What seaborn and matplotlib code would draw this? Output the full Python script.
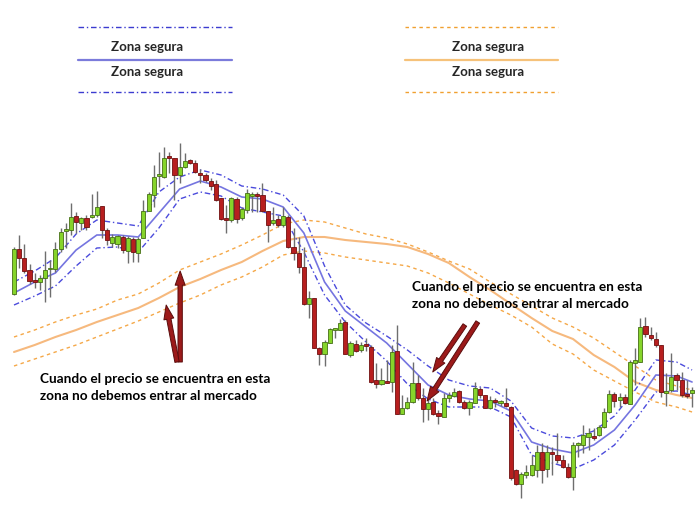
import numpy as np
import pandas as pd
import matplotlib
matplotlib.use('Agg')
import matplotlib.pyplot as plt
import seaborn as sns
from matplotlib.lines import Line2D

# candle data (price units, one value per bar)
opens = [206, 251, 242, 230, 220, 218, 222, 231, 231, 251, 269, 270, 284, 277, 282, 283, 285, 294, 270, 257,
         256, 263, 249, 261, 247, 262, 289, 305, 324, 323, 344, 342, 325, 333, 340, 337, 327, 325, 319, 316,
         302, 282, 280, 301, 282, 290, 304, 306, 305, 289, 277, 281, 275, 283, 253, 247, 233, 196, 202, 152,
         146, 157, 170, 170, 178, 145, 156, 150, 156, 153, 120, 116, 119, 118, 149, 86, 92, 98, 117, 102,
         91, 98, 87, 83, 102, 104, 109, 98, 92, 97, 111, 105, 92, 100, 97, 97, 93, 30, 16, 25,
         25, 30, 48, 31, 48, 45, 40, 33, 23, 55, 55, 63, 64, 65, 73, 88, 106, 100, 103, 96,
         137, 138, 174, 165, 161, 155, 107, 110, 125, 120, 106, 107]
highs = [253, 265, 256, 236, 227, 225, 249, 240, 258, 272, 277, 297, 288, 283, 285, 306, 309, 294, 272, 266,
         265, 265, 264, 263, 263, 300, 308, 335, 348, 353, 348, 342, 357, 347, 341, 340, 331, 327, 322, 320,
         302, 295, 303, 303, 293, 311, 308, 308, 317, 289, 293, 285, 293, 285, 272, 263, 253, 209, 202, 153,
         160, 172, 172, 181, 180, 159, 160, 158, 162, 155, 137, 132, 140, 155, 175, 105, 103, 138, 125, 112,
         102, 102, 90, 107, 108, 112, 110, 100, 100, 118, 113, 105, 104, 102, 100, 112, 94, 31, 28, 35,
         45, 55, 57, 55, 53, 67, 45, 37, 58, 58, 75, 72, 72, 75, 92, 110, 108, 107, 106, 140,
         152, 182, 183, 173, 168, 155, 127, 147, 127, 128, 120, 113]
lows = [205, 232, 227, 216, 212, 210, 198, 203, 228, 248, 252, 265, 267, 270, 270, 282, 283, 262, 255, 253,
        252, 247, 237, 238, 238, 262, 289, 293, 313, 322, 327, 300, 317, 332, 336, 327, 317, 318, 310, 299,
        280, 267, 278, 277, 280, 287, 288, 288, 288, 258, 275, 273, 273, 252, 240, 227, 195, 182, 152, 135,
        134, 157, 162, 170, 146, 143, 148, 148, 149, 117, 112, 115, 117, 108, 86, 86, 91, 97, 100, 78,
        80, 85, 76, 83, 98, 103, 97, 91, 85, 97, 102, 92, 91, 93, 94, 93, 20, 15, 2, 22,
        24, 23, 17, 23, 25, 37, 32, 22, 10, 43, 47, 50, 60, 64, 72, 87, 93, 93, 96, 96,
        115, 138, 163, 160, 153, 103, 94, 108, 110, 103, 102, 93]
closes = [251, 242, 229, 219, 218, 222, 230, 232, 251, 268, 271, 283, 278, 282, 273, 285, 293, 270, 260, 263,
          264, 250, 262, 248, 261, 289, 306, 323, 326, 342, 342, 325, 333, 339, 337, 328, 325, 320, 314, 300,
          281, 280, 302, 281, 291, 307, 306, 304, 289, 275, 280, 275, 284, 253, 247, 233, 196, 202, 152, 146,
          158, 171, 172, 177, 146, 157, 149, 155, 154, 118, 116, 120, 117, 148, 86, 92, 98, 117, 102, 91,
          97, 86, 84, 102, 105, 108, 98, 92, 98, 112, 105, 92, 100, 98, 99, 94, 22, 16, 26, 28,
          35, 48, 30, 48, 46, 40, 33, 23, 55, 57, 65, 67, 62, 73, 88, 106, 99, 103, 97, 138,
          140, 173, 166, 162, 155, 108, 109, 123, 120, 105, 104, 110]

# envelope lines, read every 4th bar
band_idx = list(range(0, 129, 4)) + [131]
blue_mid = [207, 218, 227, 250, 265, 265, 263, 287, 311, 319, 313, 303, 301, 293, 267, 218, 189, 173, 157, 136,
            115, 105, 101, 99, 89, 58, 51, 47, 55, 70, 95, 125, 124, 118]
blue_up = [218, 229, 242, 266, 280, 277, 274, 308, 323, 330, 325, 314, 311, 305, 284, 234, 195, 177, 164, 150,
           134, 120, 114, 112, 99, 72, 64, 62, 69, 84, 110, 140, 138, 130]
blue_low = [195, 204, 214, 234, 252, 253, 248, 272, 301, 308, 304, 292, 288, 284, 248, 205, 178, 158, 139, 116,
            101, 93, 93, 93, 83, 45, 37, 31, 40, 55, 80, 108, 109, 105]
orange_mid = [148, 155, 163, 170, 178, 185, 192, 202, 213, 221, 230, 238, 249, 259, 263, 263, 260, 258, 256, 253,
              246, 237, 223, 210, 196, 182, 169, 161, 145, 133, 118, 110, 105, 102]
orange_up = [163, 170, 178, 185, 191, 200, 206, 217, 230, 238, 246, 255, 265, 276, 280, 278, 272, 266, 262, 256,
             248, 239, 231, 218, 206, 194, 182, 173, 162, 148, 134, 120, 114, 110]
orange_low = [134, 141, 148, 155, 163, 171, 179, 188, 197, 205, 215, 223, 233, 245, 249, 247, 243, 240, 237, 234,
              227, 217, 206, 195, 185, 173, 156, 146, 130, 119, 108, 98, 93, 88]

note_lines = ["Cuando el precio se encuentra en esta", "zona no debemos entrar al mercado"]
legend_label = "Zona segura"
# arrows: (tail, head) in (bar, price)
arrows = [((32.1, 138), (32.1, 229)), ((31.5, 138), (29.4, 195)),
          ((87.1, 175), (80.9, 128)), ((89.6, 178), (79.8, 99))]

sns.set_theme(style='white')
plt.rcParams['font.family'] = ['Lato', 'DejaVu Sans']

fig = plt.figure(figsize=(7, 5.07), dpi=100)
ax = fig.add_axes([0, 0, 1, 1])
ax.set_axis_off()

step = 5.176
ax.set_xlim(-14 / step, (700 - 14) / step)
ax.set_ylim(-7, 500)

bands = pd.DataFrame({'idx': band_idx, 'blue_mid': blue_mid, 'blue_up': blue_up, 'blue_low': blue_low,
                      'orange_mid': orange_mid, 'orange_up': orange_up, 'orange_low': orange_low})

dot = (0, (2.5, 2.5))
dashdot = (0, (4, 2, 1, 2))
sns.lineplot(data=bands, x='idx', y='orange_up', color='#f5a848', lw=1, linestyle=dot, ax=ax)
sns.lineplot(data=bands, x='idx', y='orange_low', color='#f5a848', lw=1, linestyle=dot, ax=ax)
sns.lineplot(data=bands, x='idx', y='orange_mid', color='#f6b97e', lw=1.5, ax=ax)
sns.lineplot(data=bands, x='idx', y='blue_up', color='#4b4bdc', lw=1, linestyle=dashdot, ax=ax)
sns.lineplot(data=bands, x='idx', y='blue_low', color='#4b4bdc', lw=1, linestyle=dashdot, ax=ax)
sns.lineplot(data=bands, x='idx', y='blue_mid', color='#7575e0', lw=1.2, ax=ax)

df = pd.DataFrame({'open': opens, 'high': highs, 'low': lows, 'close': closes})
df['idx'] = np.arange(len(df))
df['bottom'] = df[['open', 'close']].min(axis=1)
df['height'] = (df['close'] - df['open']).abs().clip(lower=1.5)
up = df['close'] >= df['open']

ax.vlines(df['idx'], df['low'], df['high'], color='#6e6e6e', lw=1, zorder=3)
ax.bar(df['idx'][up], df['height'][up], bottom=df['bottom'][up], width=0.8,
       color='#86d42a', edgecolor='#466f16', linewidth=0.6, zorder=4)
ax.bar(df['idx'][~up], df['height'][~up], bottom=df['bottom'][~up], width=0.8,
       color='#b71f1f', edgecolor='#701010', linewidth=0.6, zorder=4)

for tail, head in arrows:
    ax.annotate('', xy=head, xytext=tail,
                arrowprops=dict(arrowstyle='simple,head_length=0.85,head_width=0.6,tail_width=0.26',
                                fc='#9c1a1a', ec='#5a0c0c', lw=0.7, shrinkA=0, shrinkB=0), zorder=6)

# notes
for x0, y0 in [(40, 379), (412, 287)]:
    for k, line in enumerate(note_lines):
        fig.text(x0 / 700, 1 - (y0 + k * 17) / 507, line, ha='left', va='center',
                 fontsize=9.8, fontweight='bold', color='black')

# legend boxes at the top
def fx(px):
    return px / 700

def fy(py):
    return 1 - py / 507

for (x0, x1, cx, c_dash, c_solid, ls) in [(78, 232, 147, '#3c3cd0', '#7b7bdb', dashdot),
                                          (405, 558, 488, '#f0a030', '#f6c27a', dot)]:
    fig.add_artist(Line2D([fx(x0), fx(x1)], [fy(27)] * 2, color=c_dash, lw=1, linestyle=ls))
    fig.add_artist(Line2D([fx(x0), fx(x1)], [fy(60)] * 2, color=c_solid, lw=1.6))
    fig.add_artist(Line2D([fx(x0), fx(x1)], [fy(92)] * 2, color=c_dash, lw=1, linestyle=ls))
    fig.text(fx(cx), fy(47), legend_label, ha='center', va='center', fontsize=9.5, fontweight='bold')
    fig.text(fx(cx), fy(72), legend_label, ha='center', va='center', fontsize=9.5, fontweight='bold')

fig.savefig('out.png', dpi=100)
